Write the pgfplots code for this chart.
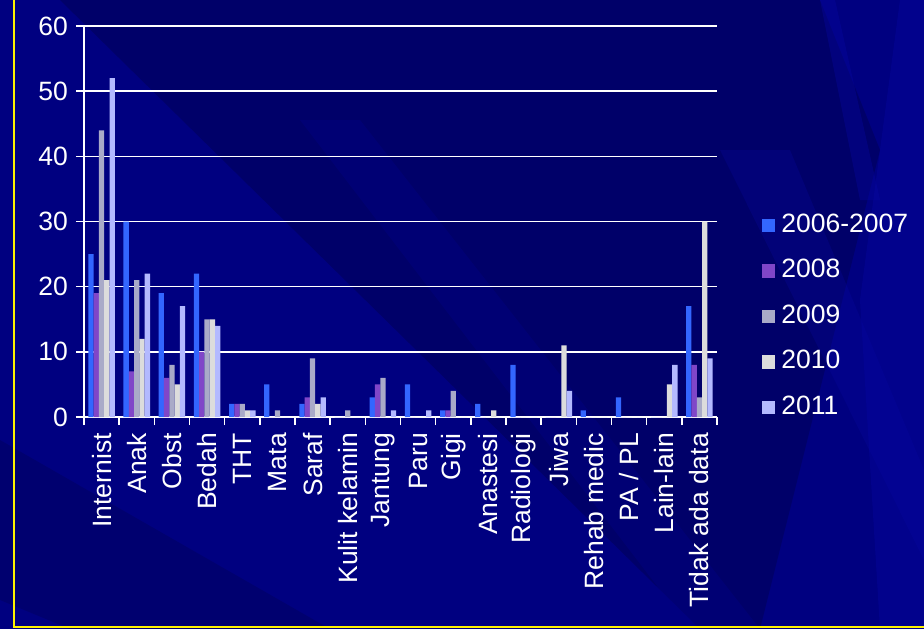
\documentclass[border=0pt]{standalone}
\usepackage{pgfplots}
\pgfplotsset{compat=1.18}
\usepackage{pgfplotstable}
\usepackage{fontspec}
\setmainfont{Liberation Sans}

\definecolor{bgbase}{RGB}{0,0,128}
\definecolor{bgdark}{RGB}{0,0,96}
\definecolor{bglight}{RGB}{8,8,165}
\definecolor{cA}{RGB}{51,102,255}
\definecolor{cB}{RGB}{128,70,200}
\definecolor{cC}{RGB}{169,170,200}
\definecolor{cD}{RGB}{220,220,220}
\definecolor{cE}{RGB}{179,185,255}

% Jumlah per bagian (x = nomor bagian)
\pgfplotstableread{
x  a   b   c   d   e
0  25  19  44  21  52
1  30  7   21  12  22
2  19  6   8   5   17
3  22  10  15  15  14
4  2   2   2   1   1
5  5   0   1   0   0
6  2   3   9   2   3
7  0   0   1   0   0
8  3   5   6   0   1
9  5   0   0   0   1
10 1   1   4   0   0
11 2   0   0   1   0
12 8   0   0   0   0
13 0   0   0   11  4
14 1   0   0   0   0
15 3   0   0   0   0
16 0   0   0   5   8
17 17  8   3   30  9
}\data

\begin{document}
\begin{tikzpicture}
\useasboundingbox (0pt,0pt) rectangle (924pt,-629pt);
% slide background with soft diagonal streaks
\fill[bgbase] (0pt,0pt) rectangle (924pt,-629pt);
\begin{scope}
\clip (0pt,0pt) rectangle (924pt,-629pt);
\fill[bgdark,opacity=.7] (60pt,0pt) -- (820pt,0pt) -- (880pt,-150pt) -- (760pt,-629pt) -- (700pt,-629pt) -- cycle;
\fill[bgbase,opacity=.5] (300pt,-120pt) -- (360pt,-120pt) -- (760pt,-629pt) -- (690pt,-629pt) -- cycle;
\fill[bglight,opacity=.35] (820pt,0pt) -- (835pt,0pt) -- (880pt,-200pt) -- (860pt,-200pt) -- cycle;
\fill[bglight,opacity=.35] (900pt,0pt) -- (924pt,0pt) -- (924pt,-629pt) -- (880pt,-629pt) -- (860pt,-300pt) -- cycle;
\fill[bglight,opacity=.25] (720pt,-150pt) -- (790pt,-150pt) -- (924pt,-470pt) -- (924pt,-560pt) -- cycle;
\fill[bgdark,opacity=.5] (0pt,-440pt) -- (0pt,-600pt) -- (70pt,-629pt) -- (330pt,-629pt) -- cycle;
\end{scope}
\draw[yellow,line width=2.5pt] (14pt,0pt) -- (14pt,-627pt) -- (924pt,-627pt);

\begin{axis}[
  at={(84pt,-417pt)}, anchor=south west,
  scale only axis, width=633pt, height=391pt,
  ybar=0pt, bar width=5.3pt,
  xmin=-0.5, xmax=17.5, ymin=0, ymax=60,
  ytick={0,10,...,60},
  axis lines*=left,
  axis line style={white,line width=1.6pt},
  ymajorgrids, grid style={white,line width=1.6pt},
  tick align=outside, major tick length=8pt,
  tick style={white,line width=1.6pt},
  xtick={-0.5,0.5,...,17.5}, xticklabels={},
  extra x ticks={0,1,...,17},
  extra x tick labels={Internist,Anak,Obst,Bedah,THT,Mata,Saraf,Kulit kelamin,Jantung,Paru,Gigi,Anastesi,Radiologi,Jiwa,Rehab medic,PA / PL,Lain-lain,Tidak ada data},
  extra x tick style={major tick length=0pt,
    xticklabel style={rotate=90,anchor=east,inner sep=0pt,xshift=-16pt}},
  /pgf/number format/assume math mode=true,
  ticklabel style={font=\fontsize{26.5}{31}\selectfont,text=white},
  yticklabel style={inner sep=0pt,xshift=-8pt},
  legend style={at={(1.066,0.527)},anchor=north west,draw=none,fill=none,
    font=\fontsize{26.5}{31}\selectfont,text=white,
    nodes={inner sep=0pt,text height=19pt,text depth=0pt},
    row sep=26.5pt,column sep=6pt},
  legend cell align=left,
  legend image code/.code={\fill[#1,draw=none] (0pt,-9.5pt) rectangle (13.5pt,4pt);},
  every axis plot/.append style={draw=none},
]
\addplot[fill=cA] table[x=x,y=a]{\data};
\addplot[fill=cB] table[x=x,y=b]{\data};
\addplot[fill=cC] table[x=x,y=c]{\data};
\addplot[fill=cD] table[x=x,y=d]{\data};
\addplot[fill=cE] table[x=x,y=e]{\data};
\legend{2006-2007,2008,2009,2010,2011}
\end{axis}
\end{tikzpicture}
\end{document}
